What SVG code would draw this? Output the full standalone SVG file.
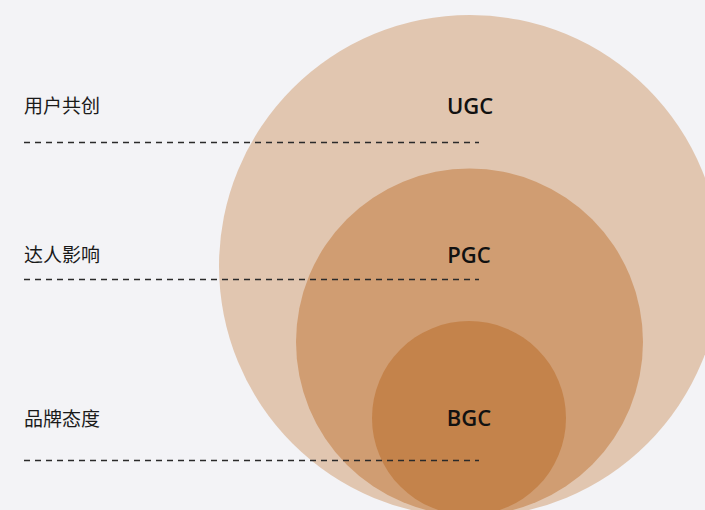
<svg xmlns="http://www.w3.org/2000/svg" width="705" height="510" viewBox="0 0 705 510">
  <style>
    .tier-label { font-family: "Noto Sans CJK SC", "Noto Sans", sans-serif; font-size: 19px; fill: #1a1a1a; }
    .ring-label { font-family: "Open Sans", "Noto Sans", sans-serif; font-size: 22px; font-weight: 600; fill: #111; text-anchor: middle; }
    .guide { stroke: #2a2a2a; stroke-width: 1.3; stroke-dasharray: 6 5; fill: none; }
  </style>
  <rect width="705" height="510" fill="#F3F3F6"/>

  <g id="ugc">
    <circle cx="470" cy="266" r="251" fill="#E1C6B0"/>
    <text class="ring-label" x="470" y="114">UGC</text>
  </g>
  <g id="pgc">
    <circle cx="469.5" cy="342" r="173.5" fill="#D09D72"/>
    <text class="ring-label" x="469" y="263">PGC</text>
  </g>
  <g id="bgc">
    <circle cx="469" cy="418" r="97" fill="#C4834B"/>
    <text class="ring-label" x="469" y="426">BGC</text>
  </g>

  <g id="tier-labels">
    <text class="tier-label" x="24" y="113">用户共创</text>
    <text class="tier-label" x="24" y="262">达人影响</text>
    <text class="tier-label" x="24" y="426">品牌态度</text>
  </g>

  <g id="guides">
    <line class="guide" x1="24" y1="142.5" x2="479" y2="142.5"/>
    <line class="guide" x1="24" y1="279.5" x2="479" y2="279.5"/>
    <line class="guide" x1="24" y1="460.5" x2="479" y2="460.5"/>
  </g>
</svg>
